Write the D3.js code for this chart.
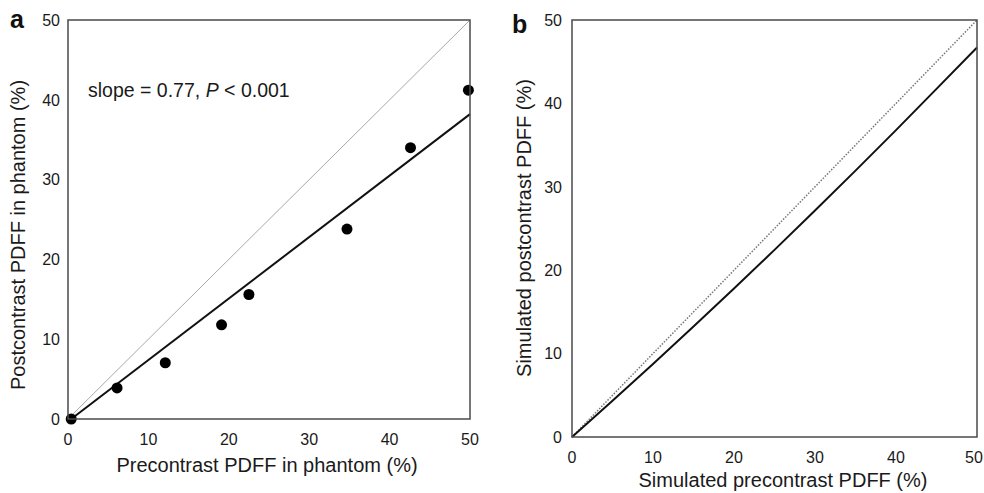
<!DOCTYPE html>
<html>
<head>
<meta charset="utf-8">
<script src="https://cdn.jsdelivr.net/npm/d3@7"></script>
<style>
  html, body { margin: 0; padding: 0; background: #fff; }
  svg { display: block; font-family: "Liberation Sans", Arial, sans-serif; }
</style>
</head>
<body>
<svg id="chart" width="984" height="493"></svg>
<script>
// ---- Data ----
const tickValues = [0, 10, 20, 30, 40, 50];

// Panel a: phantom measurements
const phantomPre  = [0.4, 6.1, 12.1, 19.1, 22.5, 34.7, 42.6, 49.8];
const phantomPost = [0.0, 3.9, 7.05, 11.8, 15.6, 23.8, 34.0, 41.2];
// regression line endpoints
const regX = [0.4, 50];
const regY = [0.0, 38.2];
// identity line
const idX = [0, 50];
const idY = [0, 50];

// Panel b: simulated curve
const simPre  = [0, 5, 10, 15, 20, 25, 30, 35, 40, 45, 50];
const simPost = [0, 4.34, 8.75, 13.24, 17.8, 22.44, 27.15, 31.94, 36.8, 41.74, 46.7];

const svg = d3.select("#chart");
const frameColor = "#4a4a4a";
const W = 984;

function panel(opts) {
  const x = d3.scaleLinear().domain([0, 50]).range([opts.left, opts.right]);
  const y = d3.scaleLinear().domain([0, 50]).range([opts.bottom, opts.top]);
  const g = svg.append("g");

  // y tick labels
  g.append("g").selectAll("text").data(tickValues).join("text")
    .attr("x", opts.left - opts.yTickGap)
    .attr("y", d => y(d))
    .attr("dy", "0.36em")
    .attr("text-anchor", "end")
    .attr("font-size", 16)
    .attr("fill", "#1a1a1a")
    .text(d => d);
  // x tick labels (kept inside the page edge)
  g.append("g").selectAll("text").data(tickValues).join("text")
    .attr("x", d => Math.min(x(d), W - 10))
    .attr("y", opts.bottom + opts.xTickOff)
    .attr("text-anchor", "middle")
    .attr("font-size", 16)
    .attr("fill", "#1a1a1a")
    .text(d => d);

  // axis titles
  g.append("text")
    .attr("x", opts.xTitleX).attr("y", opts.xTitleY)
    .attr("text-anchor", "middle").attr("font-size", 20).attr("fill", "#1a1a1a")
    .text(opts.xTitle);
  g.append("text")
    .attr("transform", `translate(${opts.yTitleX},${opts.yTitleY}) rotate(-90)`)
    .attr("text-anchor", "middle").attr("font-size", 20).attr("fill", "#1a1a1a")
    .text(opts.yTitle);

  // panel letter
  g.append("text")
    .attr("x", opts.letterX).attr("y", opts.letterY)
    .attr("font-size", 25).attr("font-weight", "bold").attr("fill", "#111")
    .text(opts.letter);

  return { x, y, g };
}

// ---------- Panel a ----------
const A = panel({
  left: 68, right: 470, top: 20, bottom: 419,
  yTickGap: 8, xTickOff: 26,
  xTitle: "Precontrast PDFF in phantom (%)", xTitleX: 267, xTitleY: 472,
  yTitle: "Postcontrast PDFF in phantom (%)", yTitleX: 25, yTitleY: 235,
  letter: "a", letterX: 10, letterY: 28
});
const line = (xs, sx, ys, sy) => d3.line().x((d, i) => sx(xs[i])).y((d, i) => sy(ys[i]))(xs);

A.g.append("path").attr("d", line(idX, A.x, idY, A.y))
  .attr("fill", "none").attr("stroke", "#a8a8a8").attr("stroke-width", 1);
A.g.append("path").attr("d", line(regX, A.x, regY, A.y))
  .attr("fill", "none").attr("stroke", "#111").attr("stroke-width", 2);
A.g.append("g").selectAll("circle").data(phantomPre).join("circle")
  .attr("cx", d => A.x(d))
  .attr("cy", (d, i) => A.y(phantomPost[i]))
  .attr("r", 5.5).attr("fill", "#000");
A.g.append("rect")
  .attr("x", A.x(0)).attr("y", A.y(50))
  .attr("width", A.x(50) - A.x(0)).attr("height", A.y(0) - A.y(50))
  .attr("fill", "none").attr("stroke", frameColor).attr("stroke-width", 1.5);
const ann = A.g.append("text").attr("x", 88).attr("y", 97)
  .attr("font-size", 19.5).attr("fill", "#1a1a1a");
ann.append("tspan").text("slope = 0.77, ");
ann.append("tspan").attr("font-style", "italic").text("P");
ann.append("tspan").text(" < 0.001");

// ---------- Panel b ----------
const B = panel({
  left: 572, right: 977, top: 20, bottom: 437,
  yTickGap: 10, xTickOff: 26,
  xTitle: "Simulated precontrast PDFF (%)", xTitleX: 783, xTitleY: 487,
  yTitle: "Simulated postcontrast PDFF (%)", yTitleX: 531, yTitleY: 228,
  letter: "b", letterX: 512, letterY: 33
});
B.g.append("path").attr("d", line(idX, B.x, idY, B.y))
  .attr("fill", "none").attr("stroke", "#777").attr("stroke-width", 1.5)
  .attr("stroke-dasharray", "1.5,1.5");
B.g.append("path").attr("d", line(simPre, B.x, simPost, B.y))
  .attr("fill", "none").attr("stroke", "#111").attr("stroke-width", 2);
B.g.append("rect")
  .attr("x", B.x(0)).attr("y", B.y(50))
  .attr("width", B.x(50) - B.x(0)).attr("height", B.y(0) - B.y(50))
  .attr("fill", "none").attr("stroke", frameColor).attr("stroke-width", 1.5);
</script>
</body>
</html>
